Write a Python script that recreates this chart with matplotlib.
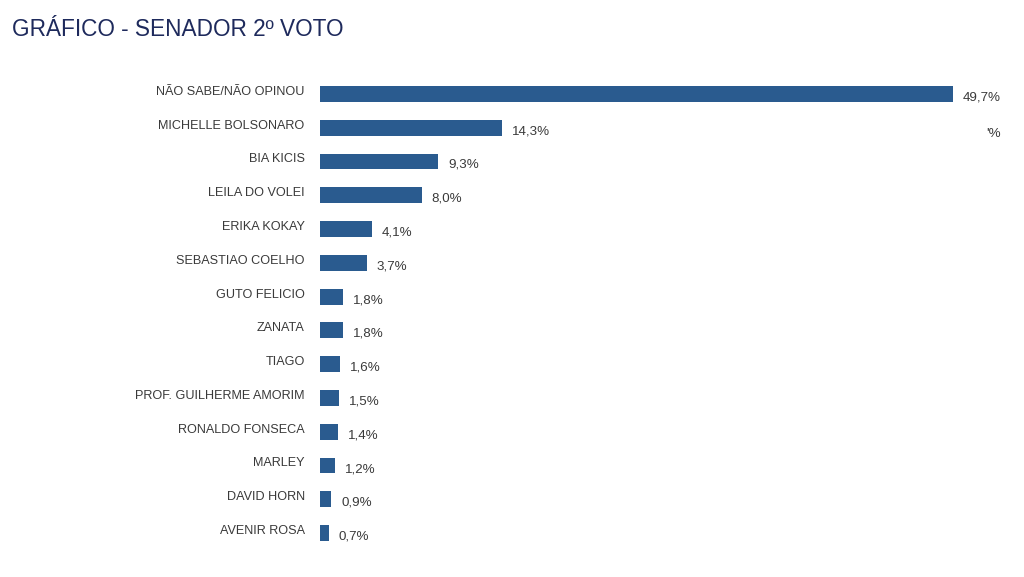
import matplotlib.pyplot as plt

candidates = [
    "NÃO SABE/NÃO OPINOU", "MICHELLE BOLSONARO", "BIA KICIS", "LEILA DO VOLEI",
    "ERIKA KOKAY", "SEBASTIAO COELHO", "GUTO FELICIO", "ZANATA", "TIAGO",
    "PROF. GUILHERME AMORIM", "RONALDO FONSECA", "MARLEY", "DAVID HORN",
    "AVENIR ROSA",
]
percent = [49.7, 14.3, 9.3, 8.0, 4.1, 3.7, 1.8, 1.8, 1.6, 1.5, 1.4, 1.2, 0.9, 0.7]

BAR_COLOR = "#2a5b8f"
TEXT_COLOR = "#3a3a3a"

fig = plt.figure(figsize=(10.24, 5.77), dpi=100)
ax = fig.add_axes([320 / 1024, 27 / 577, 680 / 1024, 473 / 577])

ypos = list(range(len(candidates)))
ax.barh(ypos, percent, height=0.47, color=BAR_COLOR)
ax.set_xlim(0, 680 / 12.74)
ax.set_ylim(len(candidates) - 0.5, -0.5)
ax.axis("off")

for y, name, v in zip(ypos, candidates, percent):
    ax.annotate(name, (0, y), xytext=(-11, 1.5), textcoords="offset points",
                ha="right", va="center", fontsize=9.1, color=TEXT_COLOR,
                family="Liberation Sans")
    label = f"{v:.1f}%".replace(".", ",")
    ax.annotate(label, (v, y), xytext=(7, -2.5), textcoords="offset points",
                ha="left", va="center", fontsize=9.6, color=TEXT_COLOR,
                family="Liberation Sans")

fig.text(12 / 1024, 1 - 29 / 577, "GRÁFICO - SENADOR 2º VOTO", fontsize=16.3,
         color="#1e2a5c", va="center", ha="left", family="Liberation Sans")
fig.text(986 / 1024, 1 - 134 / 577, "'%", fontsize=9.6, color=TEXT_COLOR,
         va="center", ha="left", family="Liberation Sans")

fig.savefig("out.png", dpi=100)
